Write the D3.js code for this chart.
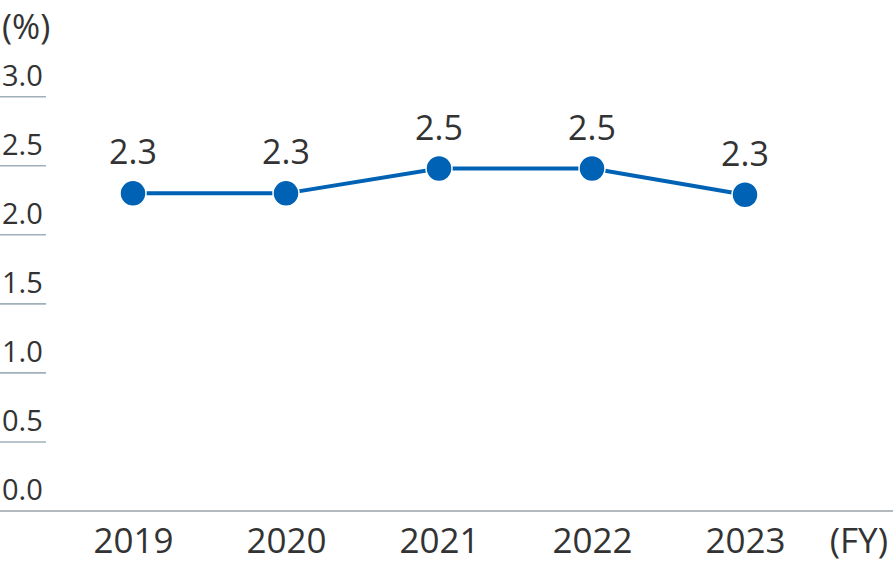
<!DOCTYPE html>
<html><head><meta charset="utf-8">
<script src="https://cdn.jsdelivr.net/npm/d3@7"></script>
<style>body{margin:0;background:#fff}svg{display:block}text{font-family:"Open Sans","Noto Sans",sans-serif;fill:#333}</style>
</head><body>
<script>
const years = ["2019","2020","2021","2022","2023"];
const values = [2.3, 2.3, 2.48, 2.48, 2.29];
const labels = ["2.3","2.3","2.5","2.5","2.3"];
const yTicks = [0, 0.5, 1.0, 1.5, 2.0, 2.5, 3.0];

const W = 893, H = 580;
const svg = d3.select("body").append("svg").attr("width", W).attr("height", H);

const x = d3.scalePoint().domain(years).range([133, 745]);
const y = d3.scaleLinear().domain([0, 3]).range([511, 96.7]);

// y tick underlines & labels
const yg = svg.append("g");
yTicks.filter(d => d > 0).forEach(t => {
  yg.append("line").attr("x1", 0).attr("x2", 46).attr("y1", y(t)).attr("y2", y(t))
    .attr("stroke", "#9fb0bb").attr("stroke-width", 1.6);
});
yTicks.forEach(t => {
  yg.append("text").attr("x", 2).attr("y", y(t) - 11).attr("font-size", 29)
    .text(d3.format(".1f")(t));
});
svg.append("text").attr("x", 2).attr("y", 39).attr("font-size", 34).text("(%)");

// baseline
svg.append("line").attr("x1", 0).attr("x2", W).attr("y1", y(0)).attr("y2", y(0))
  .attr("stroke", "#b4b9be").attr("stroke-width", 2.2);

// x axis labels
const xAxis = d3.axisBottom(x).tickSize(0).tickPadding(0);
const xg = svg.append("g").attr("transform", `translate(0,${y(0)})`).call(xAxis);
xg.select(".domain").remove();
xg.selectAll("text").attr("font-size", 35).attr("dy", null).attr("y", 42)
  .attr("font-family", "'Open Sans','Noto Sans',sans-serif").attr("fill", "#333");
svg.append("text").attr("x", 888).attr("y", 553).attr("text-anchor", "end")
  .attr("font-size", 35).text("(FY)");

// line
const data = years.map((yr, i) => ({yr, v: values[i], l: labels[i]}));
svg.append("path").datum(data)
  .attr("d", d3.line().x(d => x(d.yr)).y(d => y(d.v)))
  .attr("fill", "none").attr("stroke", "#0062b4").attr("stroke-width", 4);

svg.selectAll("circle.pt").data(data).join("circle")
  .attr("cx", d => x(d.yr)).attr("cy", d => y(d.v)).attr("r", 13)
  .attr("fill", "#0062b4").attr("stroke", "#fff").attr("stroke-width", 1.5);

svg.selectAll("text.lbl").data(data).join("text")
  .attr("x", d => x(d.yr)).attr("y", d => y(d.v) - 29)
  .attr("text-anchor", "middle").attr("font-size", 34).text(d => d.l);
</script>
</body></html>
